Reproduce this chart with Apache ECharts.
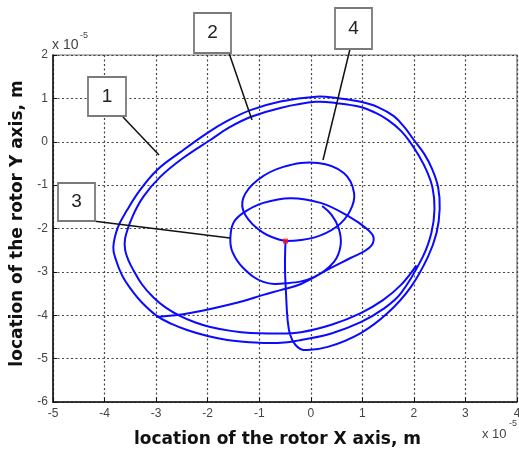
<!DOCTYPE html>
<html>
<head>
<meta charset="UTF-8">
<title>rotor orbit</title>
<script src="https://cdn.jsdelivr.net/npm/echarts@6/dist/echarts.min.js"></script>
</head>
<body style="margin:0;background:#fff">
<div id="main" style="width:519px;height:450px;"></div>
<script>
// all coordinates in units of 1e-5 m
var startPoint = [-0.49, -2.29];

// rotor drops from the start point and swings out to the right
var dropPath = [
    [-0.49, -2.29], [-0.50, -2.90], [-0.48, -3.50], [-0.45, -4.10], [-0.40, -4.45],
    [-0.30, -4.68], [-0.14, -4.80], [0.33, -4.73], [0.97, -4.41], [1.49, -3.95], [1.94, -3.35]
];
// first (outer) whirl orbit
var outerOrbit = [
    [2.27, -2.66], [2.44, -2.10], [2.50, -1.55], [2.47, -1.05], [2.35, -0.62], [2.20, -0.28],
    [2.00, 0.04], [1.82, 0.33], [1.61, 0.59], [1.30, 0.80], [0.97, 0.92], [0.50, 1.01],
    [0.10, 1.04], [-0.59, 0.93], [-1.17, 0.73], [-1.62, 0.48], [-2.01, 0.20], [-2.53, -0.24],
    [-2.98, -0.65], [-3.31, -1.11], [-3.56, -1.57], [-3.74, -1.97], [-3.83, -2.43], [-3.78, -2.72],
    [-3.66, -3.08], [-3.50, -3.38], [-3.28, -3.70], [-2.98, -4.02], [-2.70, -4.20], [-2.40, -4.34],
    [-2.00, -4.48], [-1.62, -4.57], [-1.20, -4.62], [-0.84, -4.64], [-0.45, -4.62], [-0.19, -4.57],
    [0.40, -4.42], [0.97, -4.16], [1.40, -3.86], [1.75, -3.49]
];
// second (inner) whirl orbit
var innerOrbit = [
    [2.17, -2.66], [2.34, -2.10], [2.40, -1.55], [2.36, -1.05], [2.24, -0.65], [2.10, -0.33],
    [1.94, -0.03], [1.75, 0.25], [1.50, 0.50], [1.25, 0.67], [0.97, 0.80], [0.50, 0.89],
    [0.10, 0.92], [-0.59, 0.78], [-1.17, 0.57], [-1.58, 0.33], [-1.95, 0.04], [-2.47, -0.37],
    [-2.92, -0.81], [-3.25, -1.27], [-3.46, -1.73], [-3.60, -2.22], [-3.60, -2.50], [-3.53, -2.75],
    [-3.44, -2.96], [-3.28, -3.28], [-3.06, -3.58], [-2.82, -3.82], [-2.53, -4.02], [-2.25, -4.16],
    [-1.95, -4.27], [-1.55, -4.36], [-1.17, -4.41], [-0.70, -4.42], [-0.19, -4.39], [0.40, -4.22],
    [0.97, -3.95], [1.40, -3.65], [1.75, -3.30], [2.05, -2.85]
];
// jump back towards the centre and loop 3
var crossPath = [
    [-2.98, -4.04], [-2.34, -3.95], [-1.36, -3.69], [-0.92, -3.53], [-0.59, -3.42], [-0.19, -3.28],
    [0.39, -2.91], [0.77, -2.68], [1.13, -2.45], [1.22, -2.22], [1.10, -2.02], [0.72, -1.71],
    [0.19, -1.41], [-0.39, -1.30], [-0.92, -1.41], [-1.31, -1.64], [-1.50, -1.87], [-1.56, -2.22],
    [-1.52, -2.54], [-1.31, -2.91], [-0.92, -3.23], [-0.45, -3.26], [0.06, -3.12], [0.45, -2.77],
    [0.58, -2.38], [0.54, -1.99], [0.40, -1.68], [0.22, -1.48]
];
// final orbit 4
var loop4 = [
    [-0.49, -2.29], [0.06, -2.21], [0.50, -1.96], [0.76, -1.60], [0.84, -1.18],
    [0.64, -0.72], [0.14, -0.49], [-0.53, -0.58], [-1.03, -0.88], [-1.31, -1.30], [-1.27, -1.69],
    [-0.92, -2.10], [-0.49, -2.29]
];

var xRange = [-5, 4];
var yRange = [-6, 2];

var paths = [dropPath.concat(outerOrbit, innerOrbit), crossPath, loop4];

var blue = '#0a0aff';
var chart = echarts.init(document.getElementById('main'));

function callout(label, bx, by, bw, bh, x1, y1, x2, y2) {
    return [
        { type: 'line', z: 100, shape: { x1: x1, y1: y1, x2: x2, y2: y2 },
          style: { stroke: '#111', lineWidth: 1.5 } },
        { type: 'rect', z: 101, shape: { x: bx, y: by, width: bw, height: bh },
          style: { fill: '#fff', stroke: '#7a7a7a', lineWidth: 1.8 } },
        { type: 'text', z: 102, x: bx + bw / 2, y: by + bh / 2,
          style: { text: label, fill: '#222', font: '19px "Liberation Sans", Arial, sans-serif',
                   align: 'center', verticalAlign: 'middle' } }
    ];
}

var labelFont = { color: '#444', fontSize: 12, fontFamily: '"Liberation Sans", Arial, sans-serif' };
var gridDots = { show: true, lineStyle: { color: '#444', width: 1.2, type: [2, 2.5] } };
var titleFont = { color: '#111', fontSize: 17, fontWeight: 'bold', fontFamily: '"DejaVu Sans", Verdana, sans-serif' };

var option = {
    backgroundColor: '#fff',
    animation: false,
    grid: {
        left: 53, right: 2, top: 55, bottom: 48, outerBoundsMode: 'none',
        show: true, borderColor: '#777', borderWidth: 1.2
    },
    xAxis: {
        type: 'value', min: xRange[0], max: xRange[1], interval: 1,
        name: 'location of the rotor X axis, m', nameLocation: 'middle', nameGap: 29,
        nameTextStyle: Object.assign({ padding: [0, 15, 0, 0] }, titleFont),
        axisLine: { onZero: false, lineStyle: { color: '#111', width: 1.5 } },
        axisTick: { inside: true, length: 4, lineStyle: { color: '#111' } },
        axisLabel: Object.assign({ margin: 6 }, labelFont),
        splitLine: gridDots
    },
    yAxis: {
        type: 'value', min: yRange[0], max: yRange[1], interval: 1,
        name: 'location of the rotor Y axis, m', nameLocation: 'middle', nameGap: 27,
        nameTextStyle: Object.assign({ padding: [0, 0, 0, 10] }, titleFont),
        axisLine: { onZero: false, lineStyle: { color: '#111', width: 1.5 } },
        axisTick: { inside: true, length: 4, lineStyle: { color: '#111' } },
        axisLabel: Object.assign({ margin: 5 }, labelFont),
        splitLine: gridDots
    },
    graphic: [].concat(
        [
            { type: 'text', x: 52, y: 45, style: { text: 'x 10', fill: '#444',
              font: '14px "Liberation Sans", Arial, sans-serif', verticalAlign: 'middle' } },
            { type: 'text', x: 80, y: 36, style: { text: '-5', fill: '#444',
              font: '9px "Liberation Sans", Arial, sans-serif', verticalAlign: 'middle' } },
            { type: 'text', x: 482, y: 434, style: { text: 'x 10', fill: '#444',
              font: '13px "Liberation Sans", Arial, sans-serif', verticalAlign: 'middle' } },
            { type: 'text', x: 509, y: 424, style: { text: '-5', fill: '#444',
              font: '9px "Liberation Sans", Arial, sans-serif', verticalAlign: 'middle' } }
        ],
        callout('1', 88, 77, 38, 39, 123, 117, 159, 155),
        callout('2', 194, 13, 37, 40, 229, 53, 252, 120),
        callout('3', 58, 183, 37, 38, 93, 221, 230, 238),
        callout('4', 335, 8, 37, 41, 350, 49, 323, 160)
    ),
    series: [
        {
            // each item is one trajectory piece; drawn as a smooth curve through its read points
            type: 'custom',
            coordinateSystem: 'cartesian2d',
            data: paths.map(function (p) { return p[0]; }),
            z: 3,
            renderItem: function (params, api) {
                var pts = paths[params.dataIndex].map(function (p) { return api.coord(p); });
                return {
                    type: 'polyline',
                    shape: { points: pts, smooth: 0.4 },
                    style: { stroke: blue, lineWidth: 2, fill: 'none' }
                };
            }
        },
        {
            type: 'scatter', data: [startPoint], symbol: 'rect', symbolSize: 5,
            itemStyle: { color: '#ff1010' }, z: 5
        }
    ]
};
chart.setOption(option);
</script>
</body>
</html>
